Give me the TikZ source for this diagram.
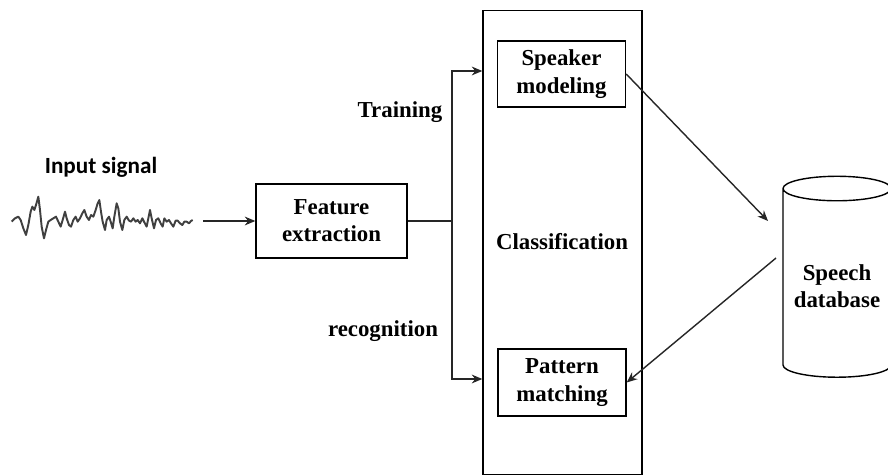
\documentclass[tikz,border=0pt]{standalone}
\usepackage{fontspec}
\setmainfont{Liberation Serif}
\newfontfamily\sigfont{Carlito}
\usetikzlibrary{shapes.geometric,arrows.meta}

\tikzset{
  blk/.style={draw, line width=0.8pt, align=center, font=\fontsize{13}{15.5}\selectfont\bfseries},
  lbl/.style={font=\fontsize{13}{15.5}\selectfont\bfseries},
  arr/.style={-{Stealth[length=6pt,width=5pt]}, line width=0.8pt, draw=black!85}
}

\begin{document}
\begin{tikzpicture}[x=0.02cm,y=-0.02cm]
        \useasboundingbox (0,0) rectangle (888,475);

        \node[blk, minimum width=3.18cm, minimum height=9.28cm] at (562.5,242.5) (cls) {};
        \node[lbl] at (562,242) (clst) {Classification};
        \node[blk, minimum width=3.02cm, minimum height=1.48cm] at (331.5,221) (fe) {Feature\\extraction};
        \node[blk, minimum width=2.56cm, minimum height=1.32cm] at (561.5,74) (spk) {Speaker\\modeling};
        \node[blk, minimum width=2.56cm, minimum height=1.34cm] at (562,382.5) (pat) {Pattern\\matching};
        \node[draw, line width=0.8pt, cylinder, shape border rotate=90, aspect=0.25,
              minimum width=2.16cm, minimum height=4.02cm, align=center,
              font=\fontsize{13}{15.5}\selectfont\bfseries] at (837,286) (db) {Speech\\database};

        \node[font=\sigfont\fontsize{13.2}{15}\selectfont\bfseries] at (101,167) (in) {Input signal};
        \node[lbl] at (400,112) (tr) {Training};
        \node[lbl] at (383,331) (rc) {recognition};

        % signal
        \begin{scope}[shift={(0,150)},scale=1/3]
        \draw[line width=1.1pt, black!75, line join=round] plot coordinates {
          (35,215) (45,205) (55,200) (62,210) (70,235) (78,255) (85,225) (92,185)
          (97,170) (103,180) (108,165) (115,140) (120,180) (125,230) (132,265) (138,240)
          (145,215) (152,210) (160,205) (168,200) (175,215) (182,230) (188,210) (195,185)
          (200,205) (207,225) (213,230) (220,210) (227,200) (233,215) (240,205) (247,190)
          (253,180) (260,200) (267,210) (273,195) (280,200) (287,180) (293,160) (298,150)
          (303,185) (308,215) (315,240) (320,210) (327,200) (332,215) (338,235) (343,200)
          (350,160) (355,175) (360,215) (367,240) (373,210) (380,200) (387,212) (393,215)
          (400,205) (407,215) (413,210) (420,220) (427,205) (432,215) (440,230) (447,195)
          (450,180) (455,205) (462,235) (468,210) (475,205) (482,220) (488,230) (493,205)
          (500,215) (507,210) (513,220) (520,230) (527,212) (533,212) (540,220) (547,225)
          (553,215) (560,215) (567,220) (573,213) (578,210)};
        \end{scope}
        \coordinate (sigend) at (203,221);
        \coordinate (split) at (452,221);
        \coordinate (dbin) at (768,221);
        \coordinate (dbout) at (776,258);

        \draw[arr] (sigend) -- (fe.west);
        \draw[line width=0.8pt, draw=black!85] (fe.east) -- (split);
        \draw[arr] (split) |- (cls.west |- 0,71);
        \draw[arr] (split) |- (cls.west |- 0,379);
        \draw[arr] (spk.east) -- (dbin);
        \draw[arr] (dbout) -- (pat.east);

    \end{tikzpicture}
\end{document}
